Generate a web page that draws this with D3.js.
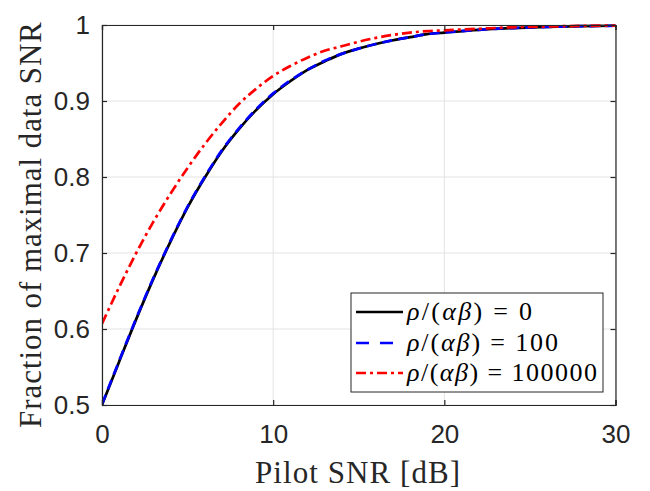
<!DOCTYPE html>
<html><head><meta charset="utf-8">
<script src="https://cdn.jsdelivr.net/npm/d3@7/dist/d3.min.js"></script>
<style>body{margin:0;background:#fff}svg{display:block}</style>
</head><body><svg id="c" width="650" height="491"></svg>
<script>
const snrDb = [0,1,2,3,4,5,6,7,8,9,10,11,12,13,14,15,16,17,18,19,20,22,24,26,28,30];
const rho0 = [0.500,0.557,0.613,0.666,0.715,0.760,0.799,0.834,0.863,0.888,0.909,0.926,0.941,0.952,0.962,0.969,0.975,0.980,0.984,0.988,0.990,0.9937,0.996,0.9975,0.9984,0.999];
const rho100 = [0.501,0.558,0.614,0.667,0.716,0.761,0.800,0.835,0.864,0.889,0.910,0.927,0.941,0.953,0.962,0.969,0.975,0.980,0.984,0.988,0.990,0.9937,0.996,0.9975,0.9984,0.999];
const rho1e5 = [0.607,0.655,0.700,0.741,0.778,0.812,0.843,0.871,0.896,0.916,0.933,0.946,0.957,0.966,0.972,0.978,0.983,0.987,0.990,0.992,0.993,0.995,0.997,0.998,0.9988,0.9993];
const xTicks = [0,10,20,30];
const yTicks = [0.5,0.6,0.7,0.8,0.9,1];
const legendValues = ["0","100","100000"];

const svg = d3.select("#c");
const L=102, R=615.5, T=25, B=405;
const x = d3.scaleLinear().domain([0,30]).range([L,R]);
const y = d3.scaleLinear().domain([0.5,1]).range([B,T]);
const axisCol = "#262626";

const g = svg.append("g");
g.selectAll(".gx").data(xTicks).enter().append("line")
  .attr("x1",d=>x(d)).attr("x2",d=>x(d)).attr("y1",T).attr("y2",B)
  .attr("stroke","#e3e3e3").attr("stroke-width",1);
g.selectAll(".gy").data(yTicks).enter().append("line")
  .attr("y1",d=>y(d)).attr("y2",d=>y(d)).attr("x1",L).attr("x2",R)
  .attr("stroke","#e3e3e3").attr("stroke-width",1);

svg.append("clipPath").attr("id","clip").append("rect").attr("x",L).attr("y",T-3).attr("width",R-L+2).attr("height",B-T+6);

const line = d3.line().x((d,i)=>x(snrDb[i])).y(d=>y(d)).curve(d3.curveMonotoneX);
const styles = [
  {data:rho0, color:"#000000", dash:null, ldash:null},
  {data:rho100, color:"#0000ff", dash:"10,6", ldash:"13,11"},
  {data:rho1e5, color:"#ff0000", dash:"10,4,3,4", ldash:"10,4,3,4"}
];
styles.forEach(s=>{
  svg.append("path").attr("d",line(s.data)).attr("fill","none")
    .attr("stroke",s.color).attr("stroke-width",2.7)
    .attr("stroke-dasharray",s.dash).attr("clip-path","url(#clip)");
});

const ax = svg.append("g");
const xb = d3.axisBottom(x).tickValues(xTicks).tickSize(-5).tickPadding(20).tickFormat(d3.format("d"));
const yl = d3.axisLeft(y).tickValues(yTicks).tickSize(-5).tickPadding(12).tickFormat(d=>d===1?"1":d3.format(".1f")(d));
const gxb = ax.append("g").attr("transform",`translate(0,${B})`).call(xb);
const gyl = ax.append("g").attr("transform",`translate(${L},0)`).call(yl);
const xt = d3.axisTop(x).tickValues(xTicks).tickSize(-5).tickFormat("");
const yr = d3.axisRight(y).tickValues(yTicks).tickSize(-5).tickFormat("");
ax.append("g").attr("transform",`translate(0,${T})`).call(xt);
ax.append("g").attr("transform",`translate(${R},0)`).call(yr);
ax.selectAll("path.domain").attr("stroke",axisCol).attr("stroke-width",1.2);
ax.selectAll(".tick line").attr("stroke",axisCol).attr("stroke-width",1.2);
ax.selectAll(".tick text").attr("fill",axisCol).attr("font-family","Liberation Sans, Arial, sans-serif").attr("font-size",26);
gxb.selectAll(".tick text").attr("dy","0.71em");

svg.append("text").attr("x",357.5).attr("y",483).attr("text-anchor","middle")
  .attr("font-family","Liberation Serif, serif").attr("font-size",31).attr("fill",axisCol)
  .attr("textLength",205).attr("lengthAdjust","spacing")
  .text("Pilot SNR [dB]");
svg.append("text").attr("transform",`translate(41,225) rotate(-90)`).attr("text-anchor","middle")
  .attr("font-family","Liberation Serif, serif").attr("font-size",31).attr("fill",axisCol)
  .attr("textLength",406).attr("lengthAdjust","spacing")
  .text("Fraction of maximal data SNR");

const lg = svg.append("g");
lg.append("rect").attr("x",351).attr("y",293).attr("width",252).attr("height",99)
  .attr("fill","#fff").attr("stroke",axisCol).attr("stroke-width",1);
const rowY = [312,343,373];
const rowW = [125,151,190];
styles.forEach((s,i)=>{
  lg.append("line").attr("x1",356).attr("x2",403).attr("y1",rowY[i]).attr("y2",rowY[i])
    .attr("stroke",s.color).attr("stroke-width",2.7).attr("stroke-dasharray",s.ldash);
  const t = lg.append("text").attr("x",407).attr("y",rowY[i]+8)
    .attr("font-family","Liberation Serif, serif").attr("font-size",26).attr("fill","#000")
    .attr("textLength",rowW[i]).attr("lengthAdjust","spacing");
  t.append("tspan").attr("font-style","italic").text("ρ");
  t.append("tspan").text("/(");
  t.append("tspan").attr("font-style","italic").text("αβ");
  t.append("tspan").text(") = " + legendValues[i]);
});
</script></body></html>
